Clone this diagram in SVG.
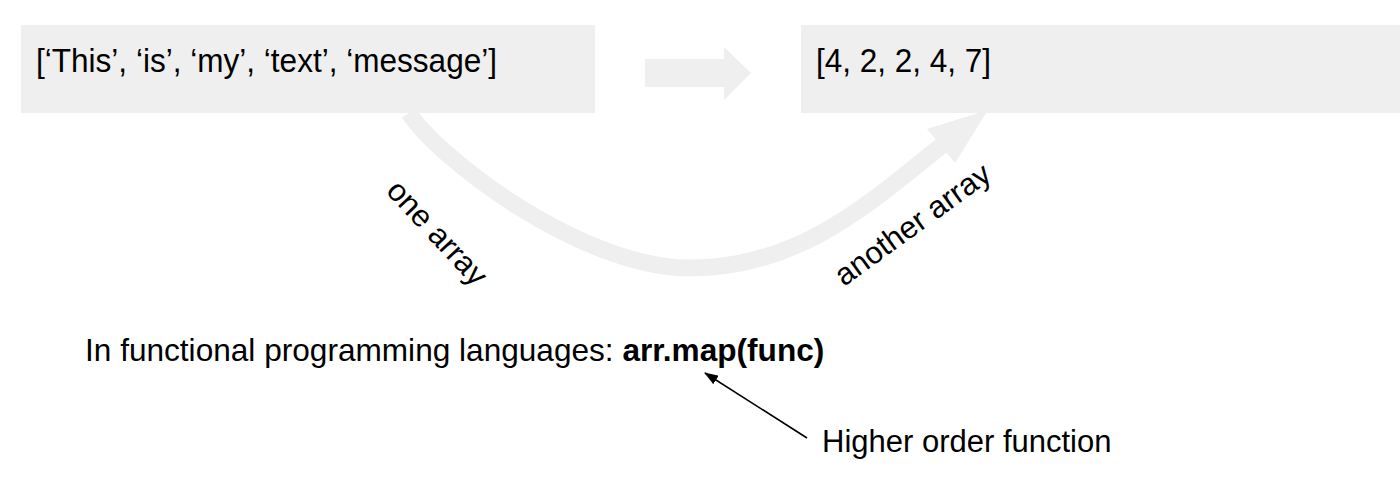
<svg xmlns="http://www.w3.org/2000/svg" width="1400" height="490" viewBox="0 0 1400 490">
<defs>
<style>
.box{fill:#efefef}
.flow{fill:#efefef}
.t{font-family:"Liberation Sans",Arial,sans-serif;font-size:31px;fill:#000}
.big{font-size:34px}
.cap{font-size:31.6px}
.curve{fill:none;stroke:#efefef;stroke-width:17}
</style>
<marker id="ah" markerWidth="14" markerHeight="10" refX="13" refY="5" orient="auto" markerUnits="userSpaceOnUse">
<path d="M0,0 L14,5 L0,10 Z" fill="#000"/>
</marker>
</defs>
<rect width="1400" height="490" fill="#fff"/>
<g id="connectors">
<path class="curve" d="M409,113 C438,158 581,268 690,268 C800,268 871,202 941,146"/>
<polygon class="flow" points="927,129 955,163 988,110"/>
<polygon class="flow" points="645,59 724,59 724,47 751,73 724,100 724,87 645,87"/>
<line x1="807" y1="438" x2="705" y2="373" stroke="#000" stroke-width="1.6" marker-end="url(#ah)"/>
</g>
<g id="node-source">
<rect class="box" x="21" y="25" width="574" height="88"/>
<text class="t big" x="36" y="72" textLength="461" lengthAdjust="spacingAndGlyphs">[‘This’, ‘is’, ‘my’, ‘text’, ‘message’]</text>
</g>
<g id="node-result">
<rect class="box" x="801" y="25" width="599" height="88"/>
<text class="t big" x="816" y="72" textLength="175" lengthAdjust="spacingAndGlyphs">[4, 2, 2, 4, 7]</text>
</g>
<g id="label-one">
<text class="t" transform="translate(385,192) rotate(47)">one array</text>
</g>
<g id="label-another">
<text class="t" transform="translate(844,287) rotate(-36)">another array</text>
</g>
<g id="caption">
<text class="t cap" x="85" y="361">In functional programming languages: <tspan font-weight="bold">arr.map(func)</tspan></text>
</g>
<g id="node-hof">
<text class="t" x="822" y="452">Higher order function</text>
</g>
</svg>
